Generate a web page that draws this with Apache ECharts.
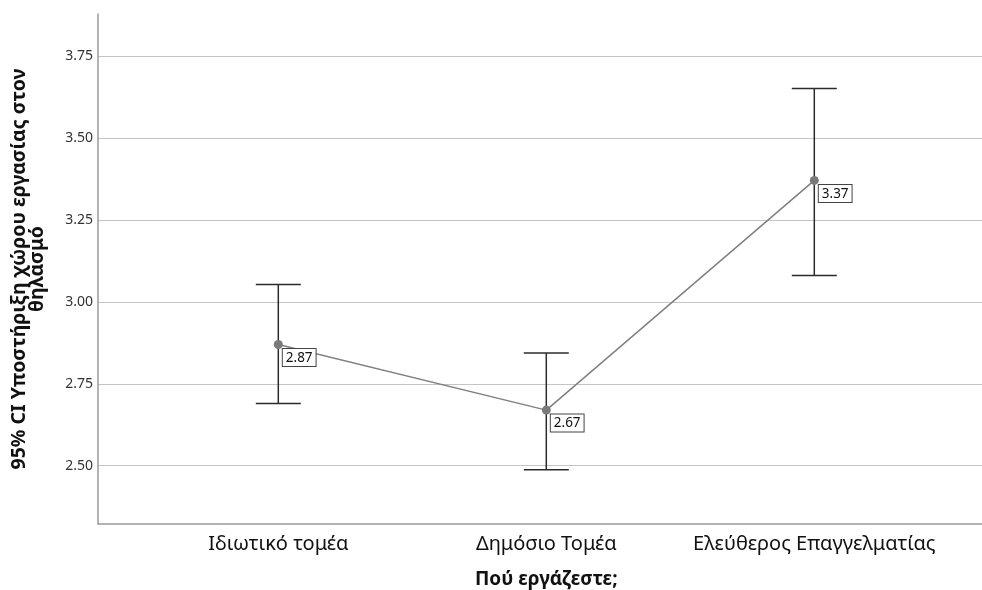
<!DOCTYPE html>
<html><head><meta charset="utf-8">
<script src="https://cdn.jsdelivr.net/npm/echarts@6/dist/echarts.min.js"></script>
<style>html,body{margin:0;padding:0;background:#fff}#c{width:982px;height:590px}</style>
</head><body><div id="c"></div>
<script>
const categories = ['Ιδιωτικό τομέα', 'Δημόσιο Τομέα', 'Ελεύθερος Επαγγελματίας'];
const means = [2.87, 2.67, 3.37];
const lowerCI = [2.690, 2.488, 3.080];
const upperCI = [3.053, 2.844, 3.650];
const yTicks = [2.50, 2.75, 3.00, 3.25, 3.50, 3.75];
const yTitle = '95% CI Υποστήριξη χώρου εργασίας στον\nθηλασμό';
const xTitle = 'Πού εργάζεστε;';

const FONT = 'Noto Sans';
const yMin = 2.323, yMax = 3.877;

const chart = echarts.init(document.getElementById('c'), null, {renderer: 'canvas'});
chart.setOption({
  backgroundColor: '#fff',
  animation: false,
  grid: [
    {left: 98, right: 0, top: 14, bottom: 66, outerBoundsMode: 'none', containLabel: false},
    {left: 98, right: 0, top: 56, bottom: 124.3, outerBoundsMode: 'none', containLabel: false},
    {left: 144.3, right: 33.7, top: 14, bottom: 66, outerBoundsMode: 'none', containLabel: false}
  ],
  xAxis: [
    {type: 'value', gridIndex: 0, min: 0, max: 1, axisLine: {show: true, onZero: false, lineStyle: {color: '#9a9a9a', width: 1.5}},
     axisTick: {show: false}, axisLabel: {show: false}, splitLine: {show: false}},
    {type: 'value', gridIndex: 1, min: 0, max: 1, show: false},
    {type: 'category', gridIndex: 2, data: categories, boundaryGap: true,
     axisLine: {show: false}, axisTick: {show: false}, splitLine: {show: false},
     axisLabel: {fontFamily: FONT, fontSize: 20, color: '#111', margin: 10, interval: 0, hideOverlap: false},
     name: xTitle, nameLocation: 'middle', nameGap: 46,
     nameTextStyle: {fontFamily: FONT, fontSize: 19, fontWeight: 'bold', color: '#111'}}
  ],
  yAxis: [
    {type: 'value', gridIndex: 0, min: yMin, max: yMax,
     axisLine: {show: true, onZero: false, lineStyle: {color: '#9a9a9a', width: 1.5}},
     axisTick: {show: false}, axisLabel: {show: false}, splitLine: {show: false},
     name: yTitle, nameLocation: 'middle', nameRotate: 90, nameGap: 52,
     nameTextStyle: {fontFamily: FONT, fontSize: 19.5, fontWeight: 'bold', color: '#111', lineHeight: 18, align: 'center'}},
    {type: 'value', gridIndex: 1, min: yTicks[0], max: yTicks[yTicks.length - 1], interval: 0.25,
     axisLine: {show: false}, axisTick: {show: false},
     axisLabel: {fontFamily: FONT, fontSize: 14, color: '#333', margin: 5, formatter: v => v.toFixed(2)},
     splitLine: {show: true, lineStyle: {color: '#c4c4c4', width: 1}}},
    {type: 'value', gridIndex: 2, min: yMin, max: yMax, show: false}
  ],
  series: [
    {
      type: 'custom', xAxisIndex: 2, yAxisIndex: 2, z: 3,
      data: categories.map((c, i) => [i, lowerCI[i], upperCI[i]]),
      renderItem: function (params, api) {
        const x = api.value(0);
        const lo = api.coord([x, api.value(1)]);
        const hi = api.coord([x, api.value(2)]);
        const hw = 22.5;
        const style = {stroke: '#2b2b2b', lineWidth: 1.5, fill: null};
        return {type: 'group', children: [
          {type: 'line', shape: {x1: lo[0], y1: lo[1], x2: hi[0], y2: hi[1]}, style: style},
          {type: 'line', shape: {x1: lo[0] - hw, y1: lo[1], x2: lo[0] + hw, y2: lo[1]}, style: style},
          {type: 'line', shape: {x1: hi[0] - hw, y1: hi[1], x2: hi[0] + hw, y2: hi[1]}, style: style}
        ]};
      }
    },
    {
      type: 'line', xAxisIndex: 2, yAxisIndex: 2, z: 4,
      data: means,
      symbol: 'circle', symbolSize: 9,
      itemStyle: {color: '#7a7a7a'},
      lineStyle: {color: '#808080', width: 1.5},
      label: {show: true, position: [9, 9], formatter: p => p.value.toFixed(2),
        fontFamily: FONT, fontSize: 13.5, color: '#111', backgroundColor: '#fff',
        borderColor: '#444', borderWidth: 1, padding: [2, 3, 1, 3]}
    }
  ]
});
</script></body></html>
